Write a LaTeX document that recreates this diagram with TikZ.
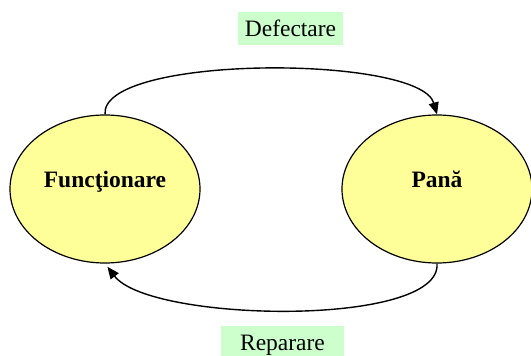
\documentclass[tikz,border=0pt]{standalone}
\usepackage{fontspec}
\setmainfont{Liberation Serif}
\usetikzlibrary{shapes.geometric,arrows.meta}
\definecolor{statefill}{HTML}{FFFF99}
\definecolor{labelfill}{HTML}{CCFFCC}
\tikzset{
  state/.style={ellipse, draw=black, line width=1.2pt, fill=statefill,
    minimum width=190pt, minimum height=148pt, inner sep=0pt,
    font=\fontsize{23.5}{28}\selectfont\bfseries,
    text height=16pt, text depth=20pt},
  trlabel/.style={rectangle, fill=labelfill, inner sep=0pt,
    font=\fontsize{23.5}{28}\selectfont},
  trans/.style={line width=1.4pt, -{Triangle[length=12pt,width=10pt]}}
}
\begin{document}
\begin{tikzpicture}[x=1pt,y=-1pt]
  \useasboundingbox (0,0) rectangle (531,356);
  \clip (0,0) rectangle (531,356);
  \fill[white] (0,0) rectangle (531,356);
  % the two states
  \node[state] (fun) at (105,189) {Funcţionare};
  \node[state] (pana) at (437,189) {Pană};
  % transition labels
  \node[trlabel, minimum width=105pt, minimum height=33pt] (def) at (290.5,28.5) {Defectare};
  \node[trlabel, minimum width=123pt, minimum height=43pt, anchor=north,
        text height=16pt, text depth=11pt] (rep) at (282.5,326) {Reparare};
  % transitions
  \draw[trans] (fun.north) .. controls +(-5,-60) and +(-17,-60) .. (pana.north);
  \draw[trans, shorten >=4pt] (pana.south) .. controls +(5,64) and +(45,59) .. (fun.south);
\end{tikzpicture}
\end{document}
